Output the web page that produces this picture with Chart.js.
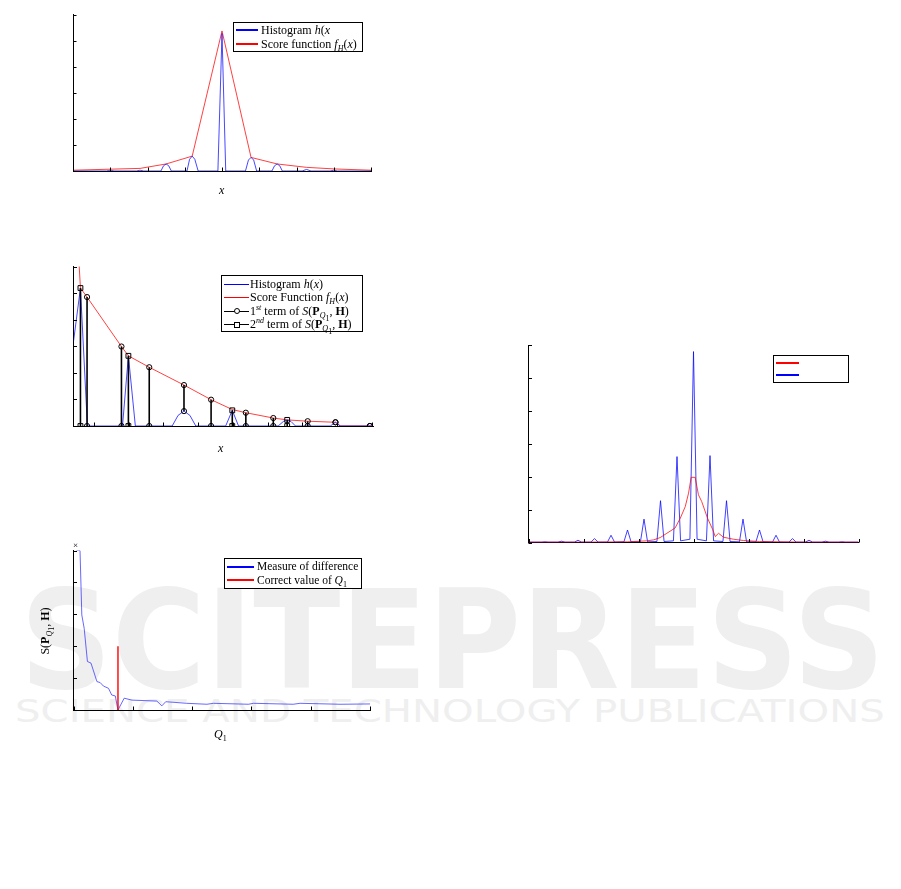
<!DOCTYPE html>
<html>
<head>
<meta charset="utf-8">
<script src="https://cdn.jsdelivr.net/npm/chart.js@4.4.0/dist/chart.umd.min.js"></script>
<style>
  html, body { margin: 0; padding: 0; background: #fff; }
  #page { position: relative; width: 901px; height: 889px; overflow: hidden; font-family: "Liberation Serif", "DejaVu Serif", serif; }
  canvas.layer { position: absolute; left: 0; top: 0; }
  .wm { position: absolute; white-space: nowrap; transform-origin: 0 0; font-family: "DejaVu Sans", sans-serif; line-height: 1; }
  #wm1 { left: 20px; top: 572px; font-size: 137px; font-weight: bold; color: #efefef; }
  #wm2 { left: 15px; top: 695px; font-size: 32px; color: #efefef; }
  .legend { position: absolute; border: 1px solid #000; background: #fff; box-sizing: border-box; z-index: 5; }
  .legend .ln { position: absolute; }
  .legend .tx { position: absolute; font-size: 12px; line-height: 14px; white-space: nowrap; }
  .legend .mk { position: absolute; width: 4px; height: 4px; border: 1px solid #000; background: #fff; }
  .lbl { position: absolute; font-size: 12px; line-height: 14px; white-space: nowrap; z-index: 5; }
  sub, sup { font-size: 8px; line-height: 0; }
  i { font-style: italic; }
</style>
</head>
<body>
<div id="page">
  <div class="wm" id="wm1">SCITEPRESS</div>
  <div class="wm" id="wm2">SCIENCE AND TECHNOLOGY PUBLICATIONS</div>
  <canvas class="layer" id="c1" width="901" height="889"></canvas>
  <canvas class="layer" id="c2" width="901" height="889"></canvas>
  <canvas class="layer" id="c3" width="901" height="889"></canvas>
  <canvas class="layer" id="c4" width="901" height="889"></canvas>

  <div class="lbl" style="left:219px; top:183px;"><i>x</i></div>
  <div class="lbl" style="left:218px; top:441px;"><i>x</i></div>
  <div class="lbl" style="left:214px; top:727px;"><i>Q</i><sub>1</sub></div>
  <div class="lbl" style="left:73px; top:538px; font-size:9px;">×</div>
  <div class="lbl" style="left:45px; top:631px; transform: translate(-50%, -50%) rotate(-90deg);">S(<b>P</b><sub><i>Q</i><sub>1</sub></sub>, <b>H</b>)</div>
</div>
<script>
const W = 901, H = 889;

// panel 1: histogram and score function
const histX1 = [0, 0.9, 0.96, 1.0, 1.04, 1.1, 1.7, 1.8, 1.9, 2.36, 2.43, 2.5, 2.57, 2.64, 3.06, 3.13, 3.2, 3.27, 3.36, 3.89, 4.0, 4.1, 4.63, 4.71, 4.78, 4.85, 4.93, 5.34, 5.41, 5.48, 5.55, 5.62, 6.15, 6.27, 6.39, 6.9, 7.0, 7.1, 8];
const histY1 = [0, 0, 0.02, 0.03, 0.02, 0, 0, 0.03, 0, 0, 0.2, 0.27, 0.2, 0, 0, 0.45, 0.57, 0.45, 0, 0, 5.27, 0, 0, 0.42, 0.52, 0.42, 0, 0, 0.2, 0.27, 0.2, 0, 0, 0.06, 0, 0, 0.03, 0, 0];
const scoreX1 = [0, 1.0, 1.8, 2.5, 3.2, 4.0, 4.78, 5.48, 6.27, 7.0, 8];
const scoreY1 = [0.03, 0.07, 0.1, 0.27, 0.57, 5.37, 0.52, 0.27, 0.14, 0.08, 0.03];
const xTicks1 = [0, 1, 2, 3, 4, 5, 6, 7, 8];
const yTicks1 = [0, 1, 2, 3, 4, 5, 6];

// panel 2: histogram, score function and the two terms of S
const histX2 = [0.41, 0.61, 0.81, 1.82, 1.99, 2.19, 3.25, 3.42, 3.59, 3.76, 3.93, 4.79, 4.98, 5.16, 6.3, 6.45, 6.56, 6.67, 6.8, 7.8, 7.95, 8.08, 9.03];
const histY2 = [3.18, 5.19, 0, 0, 2.64, 0, 0, 0.4, 0.56, 0.4, 0, 0, 0.59, 0, 0, 0.17, 0.23, 0.17, 0, 0, 0.14, 0, 0];
const scoreX2 = [0.57, 0.61, 0.80, 1.79, 1.99, 2.59, 3.59, 4.37, 4.98, 5.37, 6.16, 6.56, 7.15, 7.95, 8.1, 9.03];
const scoreY2 = [6.1, 5.19, 4.85, 2.99, 2.64, 2.21, 1.54, 0.99, 0.62, 0.50, 0.30, 0.23, 0.18, 0.14, 0, 0];
const term1X = [0.80, 1.79, 2.59, 3.59, 4.37, 5.37, 6.16, 7.15, 7.95, 8.94];
const term1Lo = [0, 0, 0, 0.56, 0, 0, 0, 0, 0.14, 0];
const term1Hi = [4.85, 2.99, 2.21, 1.54, 0.99, 0.50, 0.30, 0.18, 0.14, 0];
const term2X = [0.61, 1.99, 4.98, 6.56];
const term2Lo = [0, 0, 0, 0];
const term2Hi = [5.19, 2.64, 0.59, 0.23];
const xTicks2 = [1, 2, 3, 4, 5, 6, 7, 8, 9];
const yTicks2 = [0, 1, 2, 3, 4, 5, 6];

// panel 3: measure of difference against Q1
const q1 = [1.0, 2.2, 2.8, 3.6, 4.7, 5.9, 7.9, 9.0, 10.1, 11.8, 12.9, 14.1, 15.0, 17.1, 19.7, 28.1, 29.8, 31.1, 38.2, 45.0, 47.2, 59.0, 60.7, 74.1, 76.4, 89.9, 100];
const diff = [5.0, 5.0, 2.98, 2.56, 1.52, 1.47, 0.89, 0.86, 0.75, 0.68, 0.47, 0.44, 0.0, 0.37, 0.31, 0.28, 0.13, 0.26, 0.21, 0.18, 0.21, 0.18, 0.21, 0.18, 0.21, 0.18, 0.19];
const correctQ1 = 15;
const correctMark = 2;
const xTicks3 = [0, 20, 40, 60, 80, 100];
const yTicks3 = [0, 1, 2, 3, 4, 5];

// panel 4: comb histogram and smoothed curve
const blueX4 = [-60,
  -55.3, -54, -52.7,  -49.3, -48, -46.7,  -43.3, -42, -40.7,  -37.3, -36, -34.7,
  -31.3, -30, -28.7,  -25.3, -24, -22.7,  -19.3, -18, -16.7,  -13.3, -12, -10.7,
  -7.3, -6, -4.7,  -1.3, 0, 1.3,  4.7, 6, 7.3,  10.7, 12, 13.3,  16.7, 18, 19.3,
  22.7, 24, 25.3,  28.7, 30, 31.3,  34.7, 36, 37.3,  40.7, 42, 43.3,  46.7, 48, 49.3,
  52.7, 54, 55.3,
  60];
const blueY4 = [0.01,
  0.01, 0.02, 0.01,  0.01, 0.04, 0.01,  0.01, 0.07, 0.01,  0.01, 0.12, 0.01,
  0.01, 0.22, 0.01,  0.02, 0.38, 0.02,  0.02, 0.71, 0.02,  0.03, 1.27, 0.03,
  0.05, 2.61, 0.05,  0.1, 5.8, 0.1,  0.05, 2.64, 0.05,  0.03, 1.27, 0.03,  0.02, 0.71, 0.02,
  0.02, 0.38, 0.02,  0.01, 0.22, 0.01,  0.01, 0.12, 0.01,  0.01, 0.07, 0.01,  0.01, 0.04, 0.01,
  0.01, 0.02, 0.01,
  0.01];
const redX4 = [-60, -40, -24, -21.8, -17, -14.5, -12.1, -9.7, -6.7, -4.8, -3.0, -1.8, -0.85, 0.6, 1.8, 3.0, 5.1, 7.0, 7.9, 9.1, 10.9, 14.5, 18.2, 24, 40, 60];
const redY4 = [0.01, 0.01, 0.02, 0.03, 0.05, 0.08, 0.15, 0.28, 0.44, 0.74, 1.09, 1.5, 1.98, 1.98, 1.45, 1.24, 0.74, 0.39, 0.18, 0.28, 0.16, 0.1, 0.06, 0.03, 0.01, 0.01];
const xTicks4 = [-60, -40, -20, 0, 20, 40, 60];
const yTicks4 = [0, 1, 2, 3, 4, 5, 6];

const BLUE = 'rgba(0,0,255,0.72)';
const RED = 'rgba(255,0,0,0.75)';

function pts(xs, ys) { return xs.map((x, i) => ({ x: x, y: ys[i] })); }
function stems(xs, lo, hi) {
  return xs.flatMap((x, i) => [{ x: x, y: lo[i] }, { x: x, y: hi[i] }, { x: x, y: null }]);
}

// tick marks pointing into the plot, like the original figures
const innerTicks = {
  id: 'innerTicks',
  afterDraw(chart) {
    const { ctx, chartArea: a, scales: { x, y } } = chart;
    ctx.save();
    ctx.strokeStyle = '#000';
    ctx.lineWidth = 1;
    ctx.beginPath();
    x.ticks.forEach(t => {
      const px = Math.round(x.getPixelForValue(t.value)) + 0.5;
      ctx.moveTo(px, a.bottom); ctx.lineTo(px, a.bottom - 3.5);
    });
    y.ticks.forEach(t => {
      const py = Math.round(y.getPixelForValue(t.value)) + 0.5;
      ctx.moveTo(a.left, py); ctx.lineTo(a.left + 3.5, py);
    });
    ctx.stroke();
    ctx.restore();
  }
};

function axis(min, max, ticks) {
  return {
    type: 'linear', min: min, max: max,
    ticks: { display: false },
    grid: { display: false, drawTicks: false },
    border: { display: true, color: '#000', width: 1 },
    afterBuildTicks: s => { s.ticks = ticks.map(v => ({ value: v })); }
  };
}

function makeChart(id, area, xr, yr, xt, yt, datasets) {
  return new Chart(document.getElementById(id), {
    type: 'scatter',
    data: { datasets: datasets },
    options: {
      responsive: false,
      animation: false,
      devicePixelRatio: 1,
      layout: { padding: { left: area[0], top: area[1], right: W - area[2], bottom: H - area[3] } },
      plugins: { legend: { display: false }, tooltip: { enabled: false } },
      elements: { point: { radius: 0 }, line: { tension: 0 } },
      scales: { x: axis(xr[0], xr[1], xt), y: axis(yr[0], yr[1], yt) }
    },
    plugins: [innerTicks]
  });
}

function line(label, data, color, width) {
  return { label: label, data: data, showLine: true, borderColor: color, borderWidth: width || 1, pointRadius: 0, fill: false };
}

makeChart('c1', [73, 14.5, 371, 171], [0, 8], [0, 6], xTicks1, yTicks1, [
  line('Histogram h(x', pts(histX1, histY1), BLUE),
  line('Score function', pts(scoreX1, scoreY1), RED)
]);

makeChart('c2', [73.5, 266.5, 373, 426], [0.41, 9.03], [0, 6], xTicks2, yTicks2, [
  { label: '1st term', data: stems(term1X, term1Lo, term1Hi), showLine: true, spanGaps: false,
    borderColor: '#000', borderWidth: 1.6, pointStyle: 'circle', pointRadius: 2.6,
    pointBorderColor: '#000', pointBorderWidth: 1, pointBackgroundColor: 'rgba(0,0,0,0)' },
  { label: '2nd term', data: stems(term2X, term2Lo, term2Hi), showLine: true, spanGaps: false,
    borderColor: '#000', borderWidth: 1.6, pointStyle: 'rect', pointRadius: 3.4,
    pointBorderColor: '#000', pointBorderWidth: 1, pointBackgroundColor: 'rgba(0,0,0,0)' },
  line('Histogram', pts(histX2, histY2), BLUE),
  line('Score Function', pts(scoreX2, scoreY2), RED)
]);

makeChart('c3', [73.5, 550.5, 370, 710], [0, 100], [0, 5], xTicks3, yTicks3, [
  line('Correct value', [{ x: correctQ1, y: 0 }, { x: correctQ1, y: correctMark }], '#ff0000', 1.4),
  line('Measure of difference', pts(q1, diff), 'rgba(40,40,255,0.7)')
]);

makeChart('c4', [528.5, 345, 858.5, 542.5], [-60, 60], [0, 6], xTicks4, yTicks4, [
  line('smoothed', pts(redX4, redY4), RED),
  line('histogram', pts(blueX4, blueY4), 'rgba(0,0,255,0.75)')
]);

// legends, written as html so the math can use sub/superscripts
function addLegend(box, rows) {
  const page = document.getElementById('page');
  const el = document.createElement('div');
  el.className = 'legend';
  Object.assign(el.style, { left: box.x + 'px', top: box.y + 'px', width: box.w + 'px', height: box.h + 'px' });
  rows.forEach(r => {
    const lh = box.lh || 2;
    const ln = document.createElement('div');
    ln.className = 'ln';
    Object.assign(ln.style, { left: box.lx + 'px', width: box.lw + 'px', top: Math.round(r.y - lh / 2) + 'px', height: lh + 'px', background: r.color });
    el.appendChild(ln);
    if (r.marker) {
      const mk = document.createElement('div');
      mk.className = 'mk';
      Object.assign(mk.style, { left: Math.round(box.lx + box.lw / 2 - 3) + 'px', top: Math.round(r.y - 3) + 'px',
        borderRadius: r.marker === 'circle' ? '50%' : '0' });
      el.appendChild(mk);
    }
    if (r.html) {
      const tx = document.createElement('div');
      tx.className = 'tx';
      tx.innerHTML = r.html;
      Object.assign(tx.style, { left: box.tx + 'px', top: Math.round(r.y - 7.5) + 'px' });
      if (box.fs) tx.style.fontSize = box.fs + 'px';
      el.appendChild(tx);
    }
  });
  page.appendChild(el);
}

addLegend({ x: 233, y: 22, w: 130, h: 30, lx: 2, lw: 22, tx: 27 }, [
  { y: 7, color: '#0000ff', html: 'Histogram <i>h</i>(<i>x</i>' },
  { y: 21, color: '#ff0000', html: 'Score function <i>f<sub>H</sub></i>(<i>x</i>)' }
]);

addLegend({ x: 221, y: 275, w: 142, h: 57, lx: 2, lw: 25, tx: 28, lh: 1 }, [
  { y: 8.5, color: '#0000ff', html: 'Histogram <i>h</i>(<i>x</i>)' },
  { y: 21.5, color: '#ff0000', html: 'Score Function <i>f<sub>H</sub></i>(<i>x</i>)' },
  { y: 35, color: '#000', marker: 'circle', html: '1<sup><i>st</i></sup> term of <i>S</i>(<b>P</b><sub><i>Q</i><sub>1</sub></sub>, <b>H</b>)' },
  { y: 48.5, color: '#000', marker: 'rect', html: '2<sup><i>nd</i></sup> term of <i>S</i>(<b>P</b><sub><i>Q</i><sub>1</sub></sub>, <b>H</b>)' }
]);

addLegend({ x: 224, y: 558, w: 138, h: 31, lx: 2, lw: 27, tx: 32, fs: 11.5 }, [
  { y: 7.5, color: '#0000ff', html: 'Measure of difference' },
  { y: 21, color: '#ff0000', html: 'Correct value of <i>Q</i><sub>1</sub>' }
]);

addLegend({ x: 772.5, y: 355, w: 76, h: 28, lx: 2, lw: 23 }, [
  { y: 7, color: '#ff0000' },
  { y: 19, color: '#0000ff' }
]);

// stretch the watermark words across the page
const wm1 = document.getElementById('wm1');
wm1.style.transform = 'scaleX(' + (865 / wm1.offsetWidth) + ')';
const wm2 = document.getElementById('wm2');
wm2.style.transform = 'scaleX(' + (870 / wm2.offsetWidth) + ')';
</script>
</body>
</html>
